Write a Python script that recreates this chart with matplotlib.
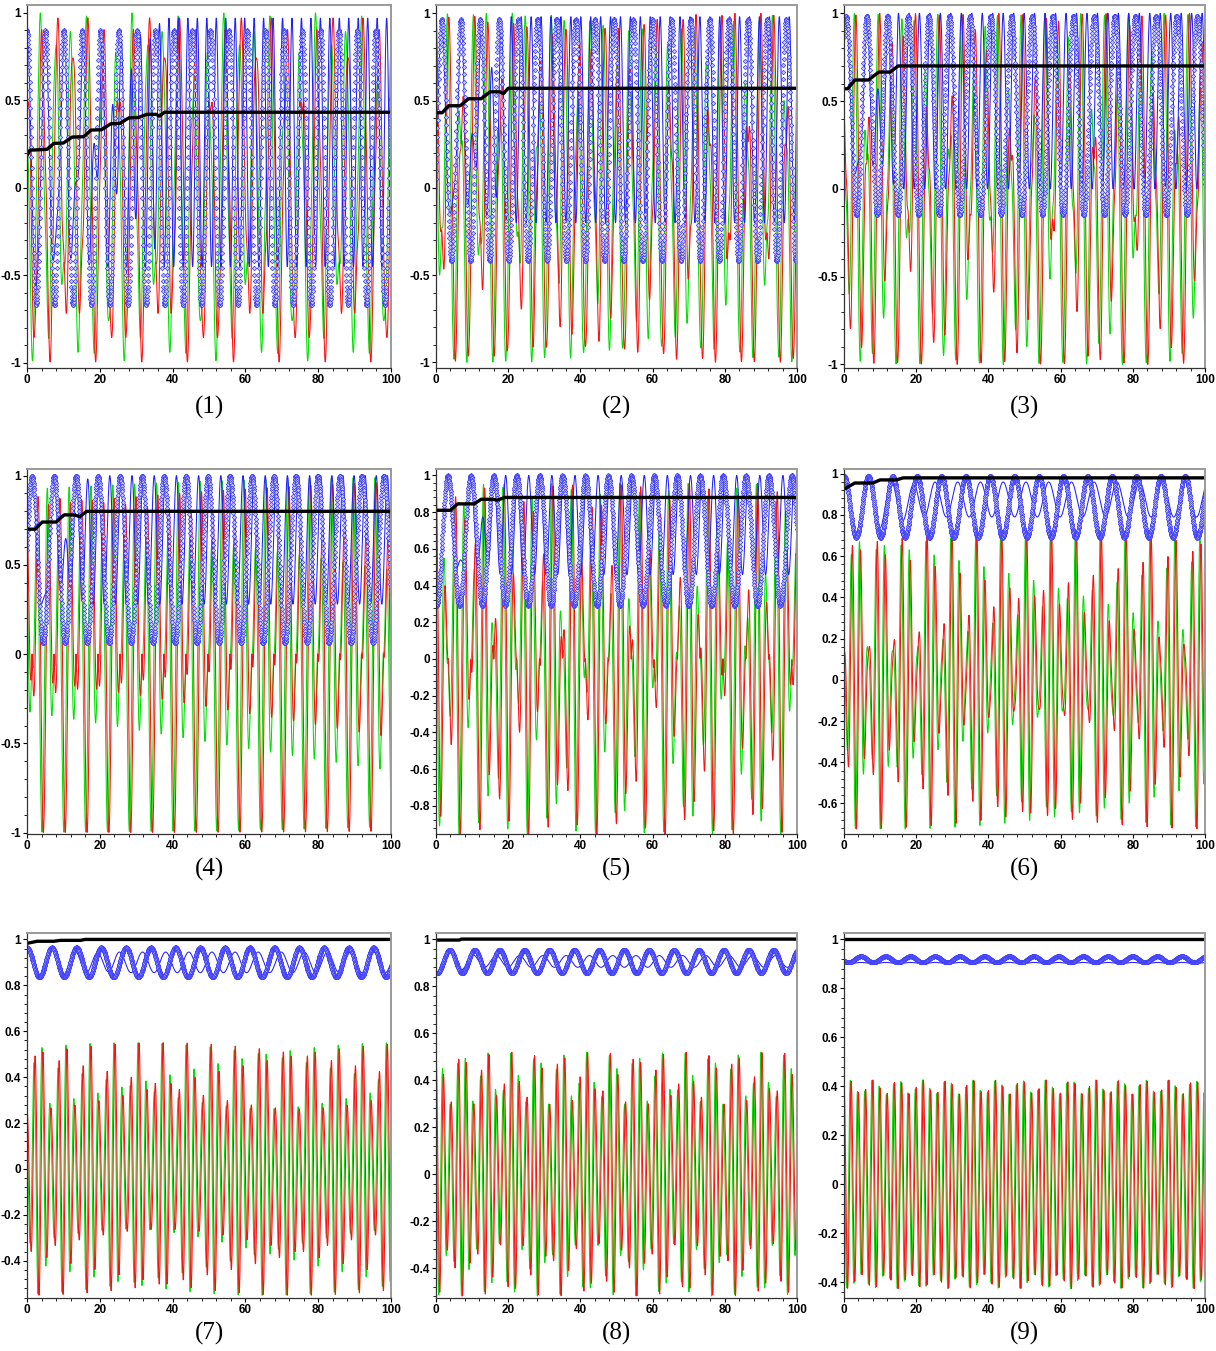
import numpy as np
import matplotlib
matplotlib.use("Agg")
import matplotlib.pyplot as plt
from matplotlib.ticker import AutoMinorLocator, FixedLocator, FuncFormatter


# values, one entry per panel (1) .. (9)
PANEL_LABELS = ["(1)", "(2)", "(3)", "(4)", "(5)", "(6)", "(7)", "(8)", "(9)"]

Y_LIMITS = [(-1.03, 1.045), (-1.032, 1.047), (-1.02, 1.047),
            (-1.007, 1.037), (-0.954, 1.035), (-0.748, 1.023),
            (-0.562, 1.028), (-0.527, 1.026), (-0.464, 1.025)]
Y_TICKS = [[-1, -0.5, 0, 0.5, 1]] * 4 + [
    [-0.8, -0.6, -0.4, -0.2, 0, 0.2, 0.4, 0.6, 0.8, 1],
    [-0.6, -0.4, -0.2, 0, 0.2, 0.4, 0.6, 0.8, 1],
    [-0.4, -0.2, 0, 0.2, 0.4, 0.6, 0.8, 1],
    [-0.4, -0.2, 0, 0.2, 0.4, 0.6, 0.8, 1],
    [-0.4, -0.2, 0, 0.2, 0.4, 0.6, 0.8, 1],
]
X_TICKS = [0, 20, 40, 60, 80, 100]

# blue diamond curve: range, period and time of first maximum
Z_MAX = [0.90, 0.965, 0.985, 1.0, 1.0, 0.99, 0.965, 0.955, 0.93]
Z_MIN = [-0.67, -0.42, -0.15, 0.06, 0.29, 0.69, 0.835, 0.855, 0.905]
Z_PERIOD = [5.04, 5.3, 5.72, 6.04, 6.35, 6.75, 6.8, 6.9, 6.84]
Z_FIRST_MAX = [0.0, 1.6, 0.6, 1.4, 3.3, 0.0, 0.0, 3.8, 4.7]

# thin blue curve (follows the diamonds at first, then drifts away)
THIN_MIN = [-0.45, -0.2, 0.0, 0.28, 0.46, 0.79, 0.855, 0.88, 0.90]
THIN_MAX = [0.97, 0.98, 1.0, 1.0, 1.0, 0.96, 0.945, 0.93, 0.905]
THIN_PERIOD = [2.6, 2.75, 2.9, 3.05, 3.2, 6.3, 6.35, 6.45, 6.84]
THIN_SETTLE = [38, 20, 15, 17, 19, 25, 25, 12, 1]

# red / green precession period
XY_PERIOD = [4.2, 3.6, 3.3, 3.0, 2.7, 2.3, 2.2, 2.1, 2.0]

# black curve: knots of the staircase
BLACK_T = [
    [0, 0.8, 5.5, 7.4, 10, 12.4, 15.6, 17.6, 20.5, 23, 25.5, 28, 30.5, 33, 35.5, 36.3, 37.8, 100],
    [0, 1.7, 3.5, 6.7, 9, 12.5, 15, 17.6, 18.7, 20, 100],
    [0, 1, 3, 6.8, 9.6, 12.8, 15, 100],
    [0, 2.2, 4.2, 8, 10.2, 13, 14.5, 16.4, 100],
    [0, 4, 6, 10.6, 12.5, 15.7, 17, 19, 100],
    [0, 3, 8, 10, 14.5, 16.4, 100],
    [0, 2.8, 7.4, 9.2, 14.7, 16, 100],
    [0, 6.5, 7, 100],
    [0, 100],
]
BLACK_V = [
    [0.185, 0.215, 0.22, 0.254, 0.256, 0.29, 0.292, 0.33, 0.332, 0.366, 0.368, 0.40, 0.402, 0.42, 0.42, 0.41, 0.432, 0.432],
    [0.43, 0.43, 0.47, 0.47, 0.51, 0.51, 0.55, 0.55, 0.54, 0.57, 0.57],
    [0.57, 0.57, 0.62, 0.62, 0.665, 0.665, 0.70, 0.70],
    [0.70, 0.70, 0.74, 0.74, 0.78, 0.78, 0.77, 0.80, 0.80],
    [0.81, 0.81, 0.845, 0.845, 0.87, 0.87, 0.865, 0.88, 0.88],
    [0.925, 0.955, 0.955, 0.97, 0.97, 0.98, 0.98],
    [0.983, 0.992, 0.992, 0.996, 0.996, 1.0, 1.0],
    [0.996, 0.996, 1.0, 1.0],
    [1.0, 1.0],
]

W, H = 1216, 1351
COLS = [(27, 391), (436, 797), (844, 1205)]
ROWS = [(5, 368), (469, 834), (933, 1298)]
LABEL_Y = [407, 869, 1333]

fig = plt.figure(figsize=(W / 100, H / 100), dpi=100)

t = np.linspace(0, 100, 5001)
t_pts = np.arange(0, 100.001, 0.06)


def z_curve(i, tt):
    c = (Z_MAX[i] + Z_MIN[i]) / 2
    a = (Z_MAX[i] - Z_MIN[i]) / 2
    return c + a * np.cos(2 * np.pi * (tt - Z_FIRST_MAX[i]) / Z_PERIOD[i])


def thin_curve(i, tt):
    c = (THIN_MAX[i] + THIN_MIN[i]) / 2
    a = (THIN_MAX[i] - THIN_MIN[i]) / 2
    osc = c + a * np.cos(2 * np.pi * (tt - Z_FIRST_MAX[i]) / THIN_PERIOD[i])
    w = np.clip(1 - tt / THIN_SETTLE[i], 0, 1)
    return w * z_curve(i, tt) + (1 - w) * osc


for i in range(9):
    r, c = divmod(i, 3)
    x0, x1 = COLS[c]
    y0, y1 = ROWS[r]
    ax = fig.add_axes([x0 / W, 1 - y1 / H, (x1 - x0) / W, (y1 - y0) / H])

    z = z_curve(i, t)
    rad = np.sqrt(np.clip(1 - z ** 2, 0, None))
    phi = 2 * np.pi * t / XY_PERIOD[i]

    ax.plot(t, rad * np.cos(phi + 0.8), color="#00e000", lw=0.75)
    ax.plot(t, rad * np.cos(phi), color="#ff1010", lw=0.75)
    ax.plot(t, thin_curve(i, t), color="#2020ff", lw=0.75)
    ax.plot(t_pts, z_curve(i, t_pts), linestyle="none", marker="D", ms=2.3,
            mfc="#c4c4ff", mec="#3c3cff", mew=0.5)
    ax.plot(BLACK_T[i], BLACK_V[i], color="black", lw=2.4)

    ax.set_xlim(0, 100)
    ax.set_ylim(*Y_LIMITS[i])
    ax.xaxis.set_major_locator(FixedLocator(X_TICKS))
    ax.yaxis.set_major_locator(FixedLocator(Y_TICKS[i]))
    ax.xaxis.set_minor_locator(AutoMinorLocator(5))
    ax.yaxis.set_minor_locator(AutoMinorLocator(5))
    fmt = FuncFormatter(lambda v, pos: f"{v:g}")
    ax.xaxis.set_major_formatter(fmt)
    ax.yaxis.set_major_formatter(fmt)
    ax.tick_params(which="major", direction="out", length=3, width=0.8,
                   labelsize=8.5, pad=1.5)
    ax.tick_params(which="minor", direction="out", length=2, width=0.6)
    for lab in ax.get_xticklabels() + ax.get_yticklabels():
        lab.set_fontweight("bold")
        lab.set_family("Liberation Sans")
    for side in ["top", "right"]:
        ax.spines[side].set_color("#9a9a9a")
        ax.spines[side].set_linewidth(1.4)
    for side in ["left", "bottom"]:
        ax.spines[side].set_color("#333333")
        ax.spines[side].set_linewidth(0.9)

    fig.text((x0 + x1) / 2 / W, 1 - LABEL_Y[r] / H, PANEL_LABELS[i],
             ha="center", va="center", fontsize=18, family="Liberation Serif")

fig.savefig("out.png", dpi=100)
